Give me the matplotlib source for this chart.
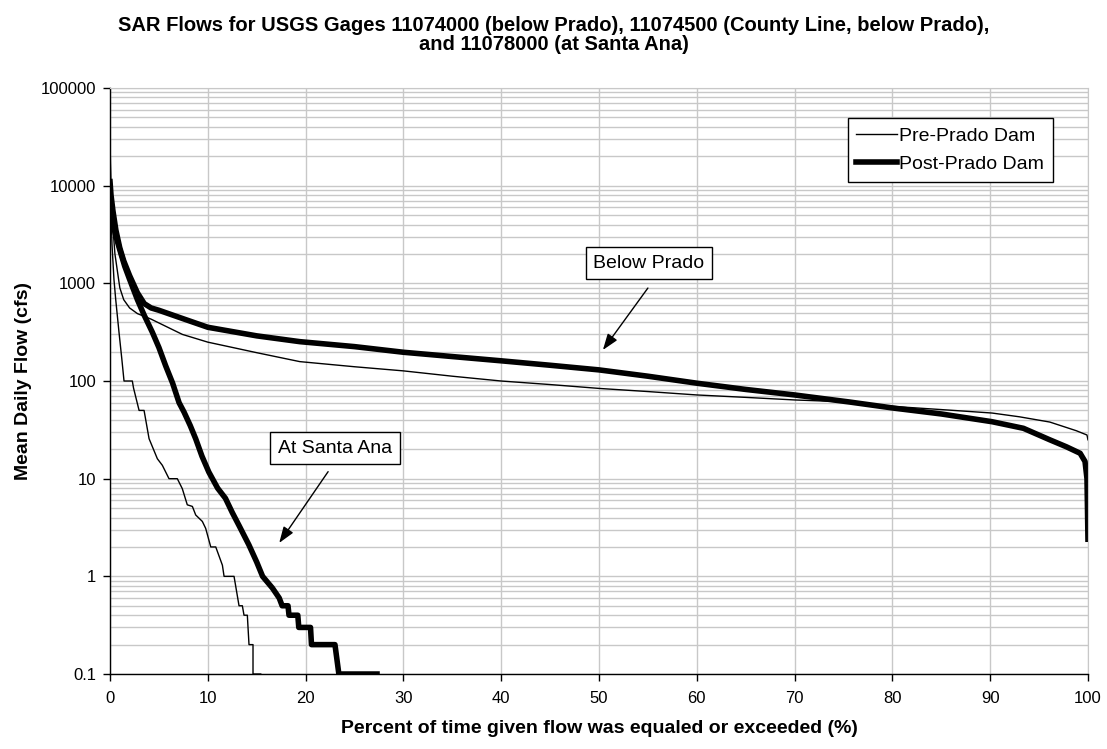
import matplotlib
matplotlib.use("Agg")
import matplotlib.pyplot as plt
from matplotlib.ticker import FixedLocator, LogLocator, FuncFormatter, NullFormatter

plt.rcParams["font.family"] = ["Liberation Sans", "DejaVu Sans"]
plt.rcParams["font.size"] = 14

# Below Prado, pre-Prado Dam (thin)
bp_pre_x = [0, 0.1, 0.2, 0.5, 1.0, 1.4, 2.0, 2.8, 4.2, 7.4, 10, 15, 19.4, 25, 30, 35,
            40, 45, 50, 55, 60, 65, 70, 75.6, 80, 85, 90.2, 93, 96.1, 98.8, 99.9, 100]
bp_pre_y = [30000, 8000, 5000, 2000, 900, 680, 560, 490, 430, 300, 250, 195, 158, 140, 127, 112,
            100, 92, 84, 78, 72, 68, 64, 61, 55, 51, 47, 43, 38, 31, 28, 25]

# Below Prado, post-Prado Dam (thick)
bp_post_x = [0, 0.1, 0.3, 0.6, 1.0, 1.4, 2.0, 2.8, 3.5, 4.2, 5, 7.6, 10, 15, 19.4, 25, 30, 35,
             40, 45, 50, 55, 60, 65, 70, 75.6, 80, 85, 90.2, 93.4, 96.1, 97.8, 99.2, 99.7,
             99.9, 99.95, 100]
bp_post_y = [11000, 8000, 5500, 3500, 2300, 1700, 1200, 800, 620, 560, 530, 430, 355, 290, 253,
             225, 197, 178, 161, 145, 130, 112, 95, 82, 72, 61, 53, 46, 38.3, 32.8, 25, 21.2,
             18.2, 15, 10, 5, 2.4]

# At Santa Ana, pre-Prado Dam (thin)
sa_pre_x = [0, 0.1, 0.2, 0.4, 0.58, 0.92, 1.2, 1.43, 2.28, 2.4, 2.97, 3.48, 3.99, 4.84, 5.35,
            6.03, 6.88, 7.39, 7.90, 8.42, 8.76, 9.44, 9.78, 10.30, 10.81, 11.49, 11.66, 12.68,
            13.19, 13.53, 13.70, 14.04, 14.11, 14.21, 14.62, 14.62, 15.41]
sa_pre_y = [25000, 6000, 2500, 1100, 684, 313, 170, 100, 100, 85, 50, 50, 25.7, 16, 13.7,
            10, 10, 7.9, 5.4, 5.2, 4.25, 3.65, 3.1, 2, 2, 1.3, 1.0, 1.0,
            0.5, 0.5, 0.4, 0.4, 0.3, 0.2, 0.2, 0.1, 0.1]

# At Santa Ana, post-Prado Dam (thick)
sa_post_x = [0, 0.3, 0.7, 1.0, 1.5, 2.0, 2.8, 3.5, 4.33, 5.0, 5.69, 6.4, 7.06, 7.57, 8.2, 8.76,
             9.4, 10.1, 11.0, 11.8, 12.5, 13.2, 14.2, 15.0, 15.6, 16.6, 17.3, 17.6, 18.2, 18.3,
             19.2, 19.3, 20.5, 20.6, 23.0, 23.4, 27.3]
sa_post_y = [6500, 4000, 2800, 2200, 1500, 1100, 680, 470, 315, 220, 143, 95, 60, 48, 35, 25.6,
             17, 11.7, 8, 6.3, 4.5, 3.3, 2.1, 1.4, 1.0, 0.76, 0.6, 0.5, 0.5, 0.4,
             0.4, 0.3, 0.3, 0.2, 0.2, 0.1, 0.1]

x_ticks = [0, 10, 20, 30, 40, 50, 60, 70, 80, 90, 100]
y_ticks = [0.1, 1, 10, 100, 1000, 10000, 100000]

fig = plt.figure(figsize=(11.07, 7.49), dpi=100)
ax = fig.add_axes([0.0994, 0.1001, 0.8834, 0.7824])

ax.plot(bp_pre_x, bp_pre_y, color="black", lw=1.0, label="Pre-Prado Dam")
ax.plot(bp_post_x, bp_post_y, color="black", lw=4.0, label="Post-Prado Dam",
        solid_joinstyle="round")
ax.plot(sa_pre_x, sa_pre_y, color="black", lw=1.0)
ax.plot(sa_post_x, sa_post_y, color="black", lw=4.0, solid_joinstyle="round")

ax.set_yscale("log")
ax.set_xlim(0, 100)
ax.set_ylim(0.1, 100000)
ax.xaxis.set_major_locator(FixedLocator(x_ticks))
ax.yaxis.set_major_locator(FixedLocator(y_ticks))
ax.yaxis.set_minor_locator(LogLocator(base=10, subs=range(2, 10), numticks=20))
ax.yaxis.set_minor_formatter(NullFormatter())
ax.yaxis.set_major_formatter(FuncFormatter(lambda v, _: f"{v:g}"))
ax.tick_params(axis="both", which="major", direction="out", length=5, width=1,
               labelsize=12)
ax.tick_params(axis="x", which="major", pad=7)
ax.tick_params(axis="y", which="major", pad=5)
ax.tick_params(axis="y", which="minor", length=0)

ax.grid(True, which="major", color="#c8c8c8", lw=1.0)
ax.grid(True, which="minor", axis="y", color="#c8c8c8", lw=1.0)
ax.set_axisbelow(True)
for s in ["top", "right"]:
    ax.spines[s].set_color("#c8c8c8")
for s in ["left", "bottom"]:
    ax.spines[s].set_color("black")
    ax.spines[s].set_linewidth(1.0)

fig.suptitle("SAR Flows for USGS Gages 11074000 (below Prado), 11074500 (County Line, below Prado),\n"
             "and 11078000 (at Santa Ana)", x=0.5, y=0.979, fontsize=14.5, fontweight="bold",
             linespacing=1.05, va="top")
ax.set_ylabel("Mean Daily Flow (cfs)", fontsize=14, fontweight="bold")
ax.yaxis.set_label_coords(-0.08, 0.5)
ax.set_xlabel("Percent of time given flow was equaled or exceeded (%)", fontsize=14,
              fontweight="bold", labelpad=10)

leg = ax.legend(loc="upper right", bbox_to_anchor=(0.951, 0.842),
                bbox_transform=fig.transFigure, fancybox=False, frameon=True,
                edgecolor="black", framealpha=1, fontsize=14, handlelength=2.1,
                handletextpad=0.1, labelspacing=0.55, borderpad=0.45, borderaxespad=0)
leg.get_frame().set_linewidth(1.0)

box = dict(boxstyle="square,pad=0.4", fc="white", ec="black", lw=1.0)
arrow = dict(arrowstyle="-|>,head_length=0.7,head_width=0.25", color="black", lw=1.0,
             shrinkA=0, shrinkB=0)
ax.annotate("", xy=(50.4, 208), xytext=(55.0, 895), arrowprops=arrow)
ax.text(55.1, 1615, "Below Prado", ha="center", va="center", fontsize=14, bbox=box)
ax.annotate("", xy=(17.3, 2.2), xytext=(22.3, 11.8), arrowprops=arrow)
ax.text(23.0, 20.6, "At Santa Ana", ha="center", va="center", fontsize=14, bbox=box)

fig.savefig("out.png", dpi=100)
